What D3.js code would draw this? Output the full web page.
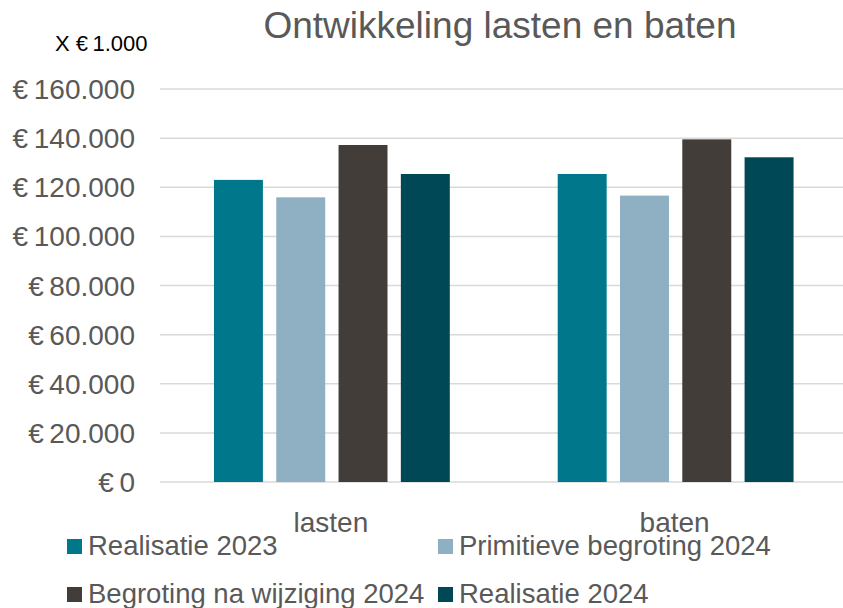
<!DOCTYPE html>
<html>
<head>
<meta charset="utf-8">
<script src="https://cdn.jsdelivr.net/npm/d3@7"></script>
<style>
  body { margin: 0; background: #fff; }
  text { font-family: "Liberation Sans", Arial, sans-serif; }
</style>
</head>
<body>
<div id="chart"></div>
<script>

// data (x € 1.000)
var categories = ["lasten", "baten"];
var seriesNames = ["Realisatie 2023", "Primitieve begroting 2024", "Begroting na wijziging 2024", "Realisatie 2024"];
var seriesColors = ["#00778b", "#8fb0c3", "#423d38", "#004856"];
var lastenValues = [123000, 115900, 137200, 125400];
var batenValues = [125400, 116600, 139500, 132200];
var yTicks = [0, 20000, 40000, 60000, 80000, 100000, 120000, 140000, 160000];

var w = 843, h = 608;
var margin = {left: 160, right: -4.5, top: 89, bottom: 126};

var rows = categories.map((c, i) => ({category: c, values: i === 0 ? lastenValues : batenValues}));

var svg = d3.select("#chart").append("svg").attr("width", w).attr("height", h);

var x = d3.scaleBand().domain(categories).range([margin.left, w - margin.right]).padding(0);
var xs = d3.scaleBand().domain(d3.range(seriesNames.length)).range([0, x.bandwidth()])
    .paddingInner(0.214).paddingOuter(0.866);
var y = d3.scaleLinear().domain([0, 160000]).range([h - margin.bottom, margin.top]);

let fmt = v => "€\u2009" + d3.format(",")(v).replace(/,/g, ".");

// gridlines
svg.append("g").selectAll("line").data(yTicks).enter().append("line")
    .attr("x1", margin.left).attr("x2", w)
    .attr("y1", d => y(d)).attr("y2", d => y(d))
    .style("stroke", "#d9d9d9").style("stroke-width", 1.5);

// y labels
svg.append("g").selectAll("text").data(yTicks).enter().append("text")
    .attr("x", 135).attr("y", d => y(d)).attr("dy", "0.36em")
    .attr("text-anchor", "end")
    .style("font-size", "28px").style("fill", "#595959")
    .text(d => d === 0 ? "€\u20090" : fmt(d));

// bars
var group = svg.append("g").selectAll("g").data(rows).enter().append("g")
    .attr("transform", d => "translate(" + x(d.category) + ",0)");

group.selectAll("rect").data(d => d.values).enter().append("rect")
    .attr("x", (d, i) => xs(i))
    .attr("width", xs.bandwidth())
    .attr("y", d => y(d))
    .attr("height", d => y(0) - y(d))
    .style("fill", (d, i) => seriesColors[i]);

// category labels
svg.append("g").selectAll("text").data(categories).enter().append("text")
    .attr("x", d => x(d) + x.bandwidth() / 2 - 1)
    .attr("y", 532)
    .attr("text-anchor", "middle")
    .style("font-size", "28px").style("fill", "#595959")
    .text(d => d);

// title
svg.append("text").attr("x", 500).attr("y", 38).attr("text-anchor", "middle")
    .style("font-size", "37px").style("fill", "#595959")
    .text("Ontwikkeling lasten en baten");

svg.append("text").attr("x", 55).attr("y", 51)
    .style("font-size", "22px").style("fill", "#000")
    .text("X €\u20091.000");

// legend
var legendPos = [[67, 539], [438, 539], [67, 587], [438, 587]];
var legend = svg.append("g").selectAll("g").data(seriesNames).enter().append("g")
    .attr("transform", (d, i) => "translate(" + legendPos[i][0] + "," + legendPos[i][1] + ")");
legend.append("rect").attr("width", 15).attr("height", 15)
    .style("fill", (d, i) => seriesColors[i]);
legend.append("text").attr("x", 21).attr("y", 16)
    .style("font-size", "27.5px").style("fill", "#595959")
    .text(d => d);

</script>
</body>
</html>
